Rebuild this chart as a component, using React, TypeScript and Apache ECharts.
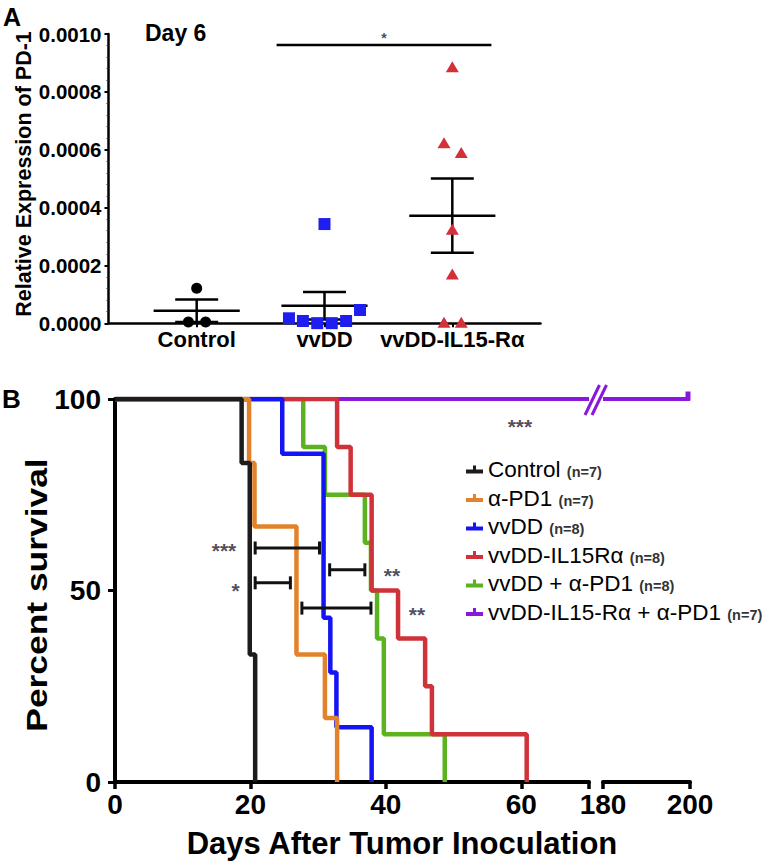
import React, { useEffect, useRef } from 'react';
import * as echarts from 'echarts';

const FONT = '"Liberation Sans", Arial, Helvetica, sans-serif';

// ---------- Panel A: relative expression of PD-1, day 6 ----------
const pd1Categories = ['Control', 'vvDD', 'vvDD-IL15-Rα'];
const pd1Ticks = [0, 0.0002, 0.0004, 0.0006, 0.0008, 0.001];
const pd1Control = [0.000121, 0.0000045, 0.0000045];
const pd1ControlJitter = [0, -0.065, 0.07];
const pd1VvDD = [0.0000173, 0.000008, 0.0000005, 0.0000005, 0.000008, 0.000046, 0.000343];
const pd1VvDDJitter = [-0.278, -0.169, -0.057, 0.057, 0.169, 0.278, 0];
const pd1IL15 = [0.000887, 0.000624, 0.00059, 0.000325, 0.00017, 0.0000035, 0.0000035];
const pd1IL15Jitter = [0, -0.065, 0.07, 0, 0, -0.065, 0.07];
const pd1SigX = [0.625, 2.306];
const pd1SigY = 0.000962;
const pd1SigLabel = '*';

// ---------- Panel B: survival ----------
const groups = ['Control', 'α-PD1', 'vvDD', 'vvDD-IL15Rα', 'vvDD + α-PD1', 'vvDD-IL15-Rα + α-PD1'];
const groupN = [7, 7, 8, 8, 8, 7];
const groupColors = ['#1c1c1c', '#e2822a', '#1414f5', '#d0323a', '#5bb41f', '#8a18dc'];

const controlDays = [0, 18.7, 19.9, 20.7];
const controlSurv = [100, 83.3, 33.3, 0];
const aPD1Days = [0, 19.8, 20.6, 26.8, 31.0, 32.8];
const aPD1Surv = [100, 83.3, 66.7, 33.3, 16.7, 0];
const vvDDDays = [0, 24.7, 30.8, 31.8, 32.7, 37.9];
const vvDDSurv = [100, 85.7, 42.9, 28.6, 14.3, 0];
const il15Days = [0, 32.8, 34.8, 37.9, 41.8, 45.8, 46.8, 60.8];
const il15Surv = [100, 87.5, 75, 50, 37.5, 25, 12.5, 0];
const comboDays = [0, 27.8, 31.0, 36.9, 37.8, 38.7, 39.7, 48.7];
const comboSurv = [100, 87.5, 75, 62.5, 50, 37.5, 12.5, 0];
const il15ComboDays = [0, 70];
const il15ComboSurv = [100, 100];
const il15ComboLateDays = [180, 200];
const il15ComboLateSurv = [100, 100];

const survTicksEarly = [0, 20, 40, 60];
const survTicksLate = [180, 200];
const survYTicks = [0, 50, 100];

const bracketStart = [20.7, 20.7, 31.7, 27.6];
const bracketEnd = [30.2, 25.9, 36.9, 37.8];
const bracketLevel = [61.1, 52.0, 55.4, 45.4];
const starLabels = ['***', '*', '**', '**', '***'];
const starDays = [16.1, 17.8, 40.9, 44.6, 59.8];
const starLevels = [62.0, 51.5, 55.4, 45.2, 94.4];

const mean = (a: number[]) => a.reduce((s, v) => s + v, 0) / a.length;
const sem = (a: number[]) => {
  const m = mean(a);
  const v = a.reduce((s, x) => s + (x - m) * (x - m), 0) / (a.length - 1);
  return Math.sqrt(v) / Math.sqrt(a.length);
};

const pairs = (xs: number[], ys: number[]) => xs.map((x, i) => [x, ys[i]]);

export default function App() {
  const ref = useRef<HTMLDivElement>(null);

  useEffect(() => {
    if (!ref.current) return;
    const chart = echarts.init(ref.current, undefined, { renderer: 'svg' });

    const pd1Groups = [pd1Control, pd1VvDD, pd1IL15];
    const errData = pd1Groups.map((g, i) => [i, mean(g), sem(g)]);

    const survSeries = [
      { idx: 5, days: il15ComboDays, surv: il15ComboSurv },
      { idx: 4, days: comboDays, surv: comboSurv },
      { idx: 3, days: il15Days, surv: il15Surv },
      { idx: 2, days: vvDDDays, surv: vvDDSurv },
      { idx: 1, days: aPD1Days, surv: aPD1Surv },
      { idx: 0, days: controlDays, surv: controlSurv },
    ].map((s) => ({
      name: groups[s.idx],
      type: 'line',
      xAxisIndex: 1,
      yAxisIndex: 1,
      step: 'end',
      symbol: 'none',
      data: pairs(s.days, s.surv),
      color: groupColors[s.idx],
      lineStyle: { color: groupColors[s.idx], width: s.idx === 5 ? 4 : 4.5 },
      itemStyle: { color: groupColors[s.idx] },
      z: 3,
    }));

    const lateData: any[] = pairs(il15ComboLateDays, il15ComboLateSurv);
    lateData[lateData.length - 1] = {
      value: lateData[lateData.length - 1],
      symbol: 'rect',
      symbolSize: [5, 9],
      symbolOffset: [-2, -3],
    };

    const bracketSeries = bracketStart.map((s, i) => ({
      name: 'bracket' + i,
      type: 'line',
      xAxisIndex: 1,
      yAxisIndex: 1,
      data: [[s, bracketLevel[i]], [bracketEnd[i], bracketLevel[i]]],
      symbol: 'rect',
      symbolSize: [3, 13],
      showSymbol: true,
      lineStyle: { color: '#111', width: 3 },
      itemStyle: { color: '#111' },
      z: 5,
    }));

    const option: any = {
      animation: false,
      backgroundColor: '#fff',
      textStyle: { fontFamily: FONT },
      grid: [
        { left: 108.5, top: 34, width: 432, height: 289.3, outerBoundsMode: 'none' },
        { left: 115, top: 399, width: 474, height: 383, outerBoundsMode: 'none' },
        { left: 603, top: 399, width: 87, height: 383, outerBoundsMode: 'none' },
      ],
      xAxis: [
        {
          gridIndex: 0,
          type: 'value',
          min: -0.69,
          max: 2.69,
          splitLine: { show: false },
          axisLine: { onZero: false, lineStyle: { color: '#000', width: 2.5 } },
          axisTick: { customValues: [0, 1, 2], length: 4, lineStyle: { color: '#000', width: 2 } },
          axisLabel: {
            customValues: [0, 1, 2],
            formatter: (v: number) => pd1Categories[Math.round(v)],
            color: '#000',
            fontWeight: 'bold',
            fontSize: 22,
            fontFamily: FONT,
            margin: 5,
          },
        },
        {
          gridIndex: 1,
          type: 'value',
          min: 0,
          max: 70,
          splitLine: { show: false },
          axisLine: { onZero: false, lineStyle: { color: '#000', width: 4 } },
          axisTick: { customValues: [...survTicksEarly, 70], length: 7, lineStyle: { color: '#000', width: 3.5 } },
          axisLabel: {
            customValues: survTicksEarly,
            color: '#000',
            fontWeight: 'bold',
            fontSize: 28,
            fontFamily: FONT,
            margin: 8,
          },
        },
        {
          gridIndex: 2,
          type: 'value',
          min: 180,
          max: 200,
          splitLine: { show: false },
          axisLine: { onZero: false, lineStyle: { color: '#000', width: 4 } },
          axisTick: { customValues: survTicksLate, length: 7, lineStyle: { color: '#000', width: 3.5 } },
          axisLabel: {
            customValues: survTicksLate,
            color: '#000',
            fontWeight: 'bold',
            fontSize: 28,
            fontFamily: FONT,
            margin: 8,
          },
        },
      ],
      yAxis: [
        {
          gridIndex: 0,
          type: 'value',
          min: pd1Ticks[0],
          max: pd1Ticks[pd1Ticks.length - 1],
          interval: pd1Ticks[1] - pd1Ticks[0],
          splitLine: { show: false },
          axisLine: { show: true, onZero: false, lineStyle: { color: '#000', width: 2.5 } },
          axisTick: { show: true, length: 4, lineStyle: { color: '#000', width: 2 } },
          minorTick: { show: true, splitNumber: 5, length: 2, lineStyle: { color: '#333', width: 1 } },
          axisLabel: {
            formatter: (v: number) => v.toFixed(4),
            color: '#000',
            fontWeight: 'bold',
            fontSize: 20.5,
            fontFamily: FONT,
            margin: 7,
          },
        },
        {
          gridIndex: 1,
          type: 'value',
          min: survYTicks[0],
          max: survYTicks[survYTicks.length - 1],
          interval: survYTicks[1] - survYTicks[0],
          splitLine: { show: false },
          axisLine: { show: true, onZero: false, lineStyle: { color: '#000', width: 4 } },
          axisTick: { show: true, length: 7, lineStyle: { color: '#000', width: 3 } },
          axisLabel: {
            color: '#000',
            fontWeight: 'bold',
            fontSize: 28,
            fontFamily: FONT,
            margin: 14,
          },
        },
        {
          gridIndex: 2,
          type: 'value',
          min: 0,
          max: 100,
          show: false,
        },
      ],
      legend: {
        data: groups.map((name) => ({ name, icon: 'path://M0,5h17v4h-17z M7,1h3v4h-3z' })),
        orient: 'vertical',
        left: 461,
        top: 453,
        itemWidth: 17,
        itemHeight: 9,
        itemGap: 5.5,
        selectedMode: false,
        itemStyle: { borderWidth: 0 },
        formatter: (name: string) => `{a|${name}} {b|(n=${groupN[groups.indexOf(name)]})}`,
        textStyle: {
          rich: {
            a: { fontSize: 22.5, fontFamily: FONT, color: '#000', lineHeight: 24 },
            b: { fontSize: 14.5, fontFamily: FONT, color: '#333', fontWeight: 'bold', lineHeight: 24, padding: [5, 0, 0, 3] },
          },
        },
      },
      series: [
        {
          name: 'mean ± SEM',
          type: 'custom',
          xAxisIndex: 0,
          yAxisIndex: 0,
          data: errData,
          z: 2,
          renderItem: (params: any, api: any) => {
            const x = api.value(0);
            const m = api.value(1);
            const s = api.value(2);
            const pm = api.coord([x, m]);
            const pt = api.coord([x, m + s]);
            const pb = api.coord([x, Math.max(m - s, 0)]);
            const hw = api.size([0.337, 0])[0];
            const cw = api.size([0.168, 0])[0];
            const style = { stroke: '#000', lineWidth: 2.5, fill: null };
            return {
              type: 'group',
              children: [
                { type: 'line', shape: { x1: pm[0] - hw, y1: pm[1], x2: pm[0] + hw, y2: pm[1] }, style },
                { type: 'line', shape: { x1: pt[0], y1: pt[1], x2: pb[0], y2: pb[1] }, style },
                { type: 'line', shape: { x1: pt[0] - cw, y1: pt[1], x2: pt[0] + cw, y2: pt[1] }, style },
                { type: 'line', shape: { x1: pb[0] - cw, y1: pb[1], x2: pb[0] + cw, y2: pb[1] }, style },
              ],
            };
          },
        },
        {
          name: 'Control pts',
          type: 'scatter',
          xAxisIndex: 0,
          yAxisIndex: 0,
          symbol: 'circle',
          symbolSize: 11,
          itemStyle: { color: '#000', opacity: 1 },
          data: pd1Control.map((v, i) => [0 + pd1ControlJitter[i], v]),
          z: 4,
        },
        {
          name: 'vvDD pts',
          type: 'scatter',
          xAxisIndex: 0,
          yAxisIndex: 0,
          symbol: 'rect',
          symbolSize: 12,
          itemStyle: { color: '#1e1ef0', opacity: 1 },
          data: pd1VvDD.map((v, i) => [1 + pd1VvDDJitter[i], v]),
          z: 4,
        },
        {
          name: 'IL15 pts',
          type: 'scatter',
          xAxisIndex: 0,
          yAxisIndex: 0,
          symbol: 'triangle',
          symbolSize: [13, 11],
          itemStyle: { color: '#d3303a', opacity: 1 },
          data: pd1IL15.map((v, i) => [2 + pd1IL15Jitter[i], v]),
          z: 4,
        },
        {
          name: 'pd1 sig',
          type: 'line',
          xAxisIndex: 0,
          yAxisIndex: 0,
          symbol: 'none',
          data: pd1SigX.map((x) => [x, pd1SigY]),
          lineStyle: { color: '#000', width: 2.5 },
          z: 4,
        },
        {
          name: 'pd1 star',
          type: 'scatter',
          xAxisIndex: 0,
          yAxisIndex: 0,
          symbolSize: 0,
          clip: false,
          data: [[(pd1SigX[0] + pd1SigX[1]) / 2, pd1SigY]],
          label: {
            show: true,
            position: 'top',
            distance: 0,
            formatter: pd1SigLabel,
            color: '#1a1a2a',
            fontSize: 14,
            fontWeight: 'bold',
            fontFamily: FONT,
          },
        },
        ...survSeries,
        {
          name: groups[5],
          type: 'line',
          xAxisIndex: 2,
          yAxisIndex: 2,
          symbol: 'none',
          showSymbol: true,
          data: lateData,
          color: groupColors[5],
          lineStyle: { color: groupColors[5], width: 4 },
          itemStyle: { color: groupColors[5] },
          z: 3,
        },
        ...bracketSeries,
        {
          name: 'stars',
          type: 'scatter',
          xAxisIndex: 1,
          yAxisIndex: 1,
          symbolSize: 0,
          clip: false,
          data: starDays.map((d, i) => ({ value: [d, starLevels[i]], label: { formatter: starLabels[i] } })),
          label: {
            show: true,
            position: 'inside',
            offset: [0, 6],
            color: '#1e1e36',
            fontSize: 21,
            fontWeight: 'bold',
            fontFamily: FONT,
          },
          z: 6,
        },
      ],
      graphic: [
        { type: 'text', x: 3, y: 17, style: { text: 'A', font: `bold 25px ${FONT}`, fill: '#000', verticalAlign: 'middle' } },
        { type: 'text', x: 2, y: 399, style: { text: 'B', font: `bold 26px ${FONT}`, fill: '#000', verticalAlign: 'middle' } },
        { type: 'text', x: 145, y: 33, style: { text: 'Day 6', font: `bold 23px ${FONT}`, fill: '#000', verticalAlign: 'middle' } },
        {
          type: 'text',
          x: 24,
          y: 174,
          rotation: Math.PI / 2,
          style: { text: 'Relative Expression of PD-1', font: `bold 21.5px ${FONT}`, fill: '#000', align: 'center', verticalAlign: 'middle' },
        },
        {
          type: 'text',
          x: 36,
          y: 595,
          rotation: Math.PI / 2,
          scaleX: 1.18,
          style: { text: 'Percent survival', font: `bold 30px ${FONT}`, fill: '#000', align: 'center', verticalAlign: 'middle' },
        },
        {
          type: 'text',
          x: 402,
          y: 843,
          style: { text: 'Days After Tumor Inoculation', font: `bold 31px ${FONT}`, fill: '#000', align: 'center', verticalAlign: 'middle' },
        },
        { type: 'line', shape: { x1: 585, y1: 415, x2: 599.5, y2: 385 }, style: { stroke: groupColors[5], lineWidth: 3 } },
        { type: 'line', shape: { x1: 592, y1: 415, x2: 606.5, y2: 385 }, style: { stroke: groupColors[5], lineWidth: 3 } },
      ],
    };

    chart.setOption(option);
    return () => chart.dispose();
  }, []);

  return (
    <div
      ref={ref}
      style={{ position: 'fixed', left: 0, top: 0, width: 776, height: 868, background: '#fff' }}
    />
  );
}
